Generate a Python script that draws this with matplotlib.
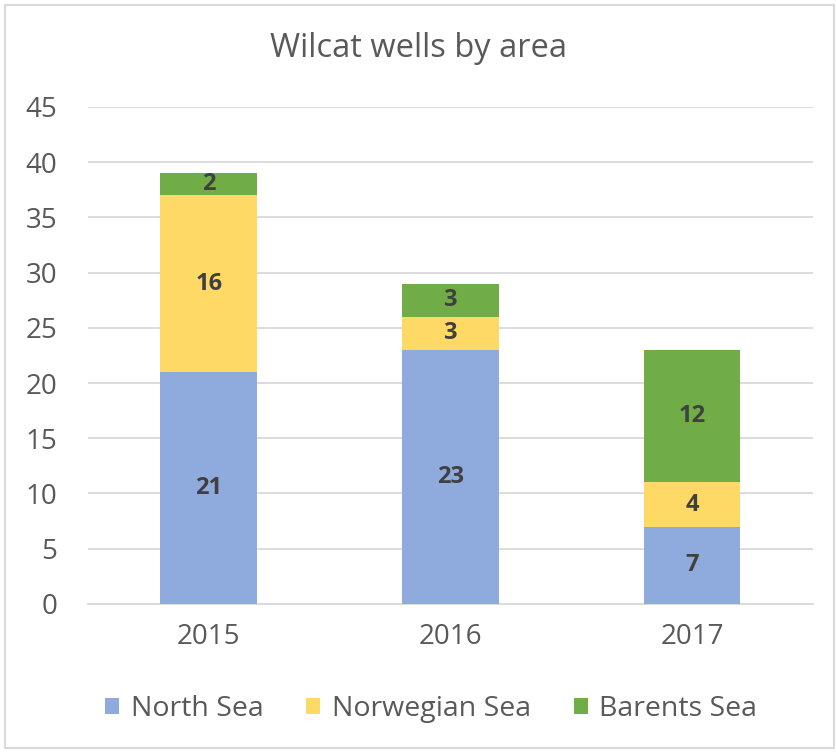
import matplotlib.pyplot as plt
import numpy as np

years = ["2015", "2016", "2017"]
north_sea = [21, 23, 7]
norwegian_sea = [16, 3, 4]
barents_sea = [2, 3, 12]
series_names = ["North Sea", "Norwegian Sea", "Barents Sea"]
colors = ["#8FAADC", "#FFD966", "#70AD47"]

plt.rcParams['font.family'] = ['Open Sans', 'DejaVu Sans']

fig = plt.figure(figsize=(8.37, 7.53), dpi=100)
ax = fig.add_axes([0.105, 0.198, 0.866, 0.66])

x = np.arange(len(years))
bottom = np.zeros(len(years))
for vals, name, col in zip([north_sea, norwegian_sea, barents_sea], series_names, colors):
    bars = ax.bar(x, vals, width=0.4, bottom=bottom, color=col, label=name, zorder=3)
    for b, v, b0 in zip(bars, vals, bottom):
        ax.text(b.get_x() + b.get_width() / 2, b0 + v / 2, str(v),
                ha="center", va="center", fontsize=17, fontweight="bold",
                color="#404040", zorder=4)
    bottom += np.array(vals)

ax.set_xlim(-0.5, 2.5)
ax.set_ylim(0, 45)
ax.set_yticks(range(0, 46, 5))
ax.set_xticks(x)
ax.set_xticklabels(years)
ax.grid(axis="y", color="#D9D9D9", linewidth=1.3, zorder=0)
for s in ["top", "right", "left"]:
    ax.spines[s].set_visible(False)
ax.spines["bottom"].set_color("#D9D9D9")
ax.spines["bottom"].set_linewidth(1.3)
ax.tick_params(axis="both", length=0, labelsize=20, colors="#595959")
ax.tick_params(axis="y", pad=22)
ax.tick_params(axis="x", pad=14)

fig.text(0.5, 0.935, "Wilcat wells by area", ha="center", va="center",
         fontsize=23.5, color="#595959")

leg = fig.legend(loc="center", bbox_to_anchor=(0.515, 0.058), ncol=3, frameon=False,
                 fontsize=20.5, handlelength=0.5, handleheight=0.5, handletextpad=0.4,
                 columnspacing=1.5)
for t in leg.get_texts():
    t.set_color("#595959")

# outer border
fig.patches.append(plt.Rectangle((0.006, 0.006), 0.99, 0.988, transform=fig.transFigure,
                                 fill=False, edgecolor="#D9D9D9", linewidth=1.5))

fig.savefig("out.png", dpi=100)
